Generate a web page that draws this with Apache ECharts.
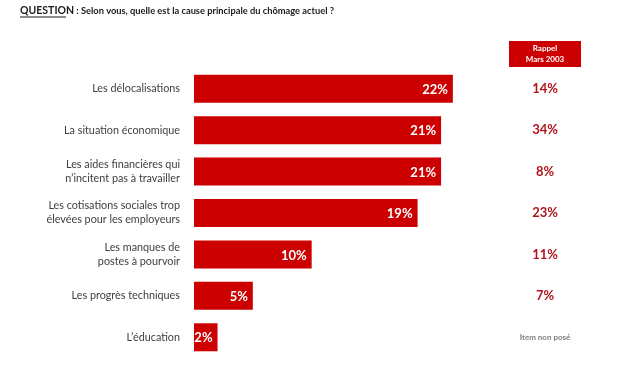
<!DOCTYPE html>
<html>
<head>
<meta charset="utf-8">
<script src="https://cdn.jsdelivr.net/npm/echarts@6/dist/echarts.min.js"></script>
<style>html,body{margin:0;padding:0;background:#fff}#c{width:630px;height:371px}</style>
</head>
<body>
<div id="c"></div>
<script>
var categories = [
  "Les délocalisations",
  "La situation économique",
  "Les aides financières qui\nn’incitent pas à travailler",
  "Les cotisations sociales trop\nélevées pour les employeurs",
  "Les manques de\npostes à pourvoir",
  "Les progrès techniques",
  "L’éducation"
];
var values2005 = [22, 21, 21, 19, 10, 5, 2];
var recall2003 = ["14%", "34%", "8%", "23%", "11%", "7%", "Item non posé"];
var titleLead = "QUESTION";
var titleText = " : Selon vous, quelle est la cause principale du chômage actuel ?";
var headerText = "Rappel\nMars 2003";

var font = "Lato, 'Open Sans', sans-serif";
var chart = echarts.init(document.getElementById('c'), null, {renderer: 'canvas'});
chart.setOption({
  animation: false,
  backgroundColor: '#ffffff',
  grid: {left: 194, top: 68, width: 353, height: 290, containLabel: false},
  xAxis: {type: 'value', min: 0, max: 30, show: false},
  yAxis: [{
    type: 'category', inverse: true, data: categories,
    axisLine: {show: false}, axisTick: {show: false},
    axisLabel: {color: '#404040', fontFamily: font, fontSize: 10.8, margin: 14, align: 'right', lineHeight: 14}
  }, {
    type: 'category', inverse: true, position: 'right', data: recall2003,
    axisLine: {show: false}, axisTick: {show: false},
    axisLabel: {
      margin: -2, align: 'center',
      formatter: function (v) { return v.indexOf('%') >= 0 ? '{p|' + v + '}' : '{n|' + v + '}'; },
      rich: {
        p: {color: '#b0141c', fontFamily: font, fontWeight: 'bold', fontSize: 13},
        n: {color: '#7f7f7f', fontFamily: font, fontWeight: 'bold', fontSize: 8}
      }
    }
  }],
  series: [{
    type: 'bar', data: values2005, barWidth: 28,
    itemStyle: {color: '#cc0000'},
    label: {show: true, position: 'insideRight', offset: [0, 1], distance: 5, color: '#ffffff', fontFamily: font, fontWeight: 'bold', fontSize: 13, formatter: '{c}%'}
  }],
  graphic: [
    {type: 'text', left: 20, top: 5, style: {
      text: '{q|' + titleLead + '}{t|' + titleText + '}',
      rich: {
        q: {fontFamily: font, fontWeight: 'bold', fontSize: 10.5, fill: '#1a1a1a'},
        t: {fontFamily: font, fontWeight: 'bold', fontSize: 9.3, fill: '#1a1a1a'}
      }
    }},
    {type: 'line', shape: {x1: 20, y1: 17, x2: 66, y2: 17}, style: {stroke: '#1a1a1a', lineWidth: 1}},
    {type: 'rect', shape: {x: 509, y: 41, width: 72, height: 26}, style: {fill: '#cc0000'}},
    {type: 'text', x: 545, y: 54, style: {text: headerText, fontFamily: font, fontWeight: 'bold', fontSize: 8, lineHeight: 11, fill: '#ffffff', align: 'center', verticalAlign: 'middle'}}
  ]
});
</script>
</body>
</html>
